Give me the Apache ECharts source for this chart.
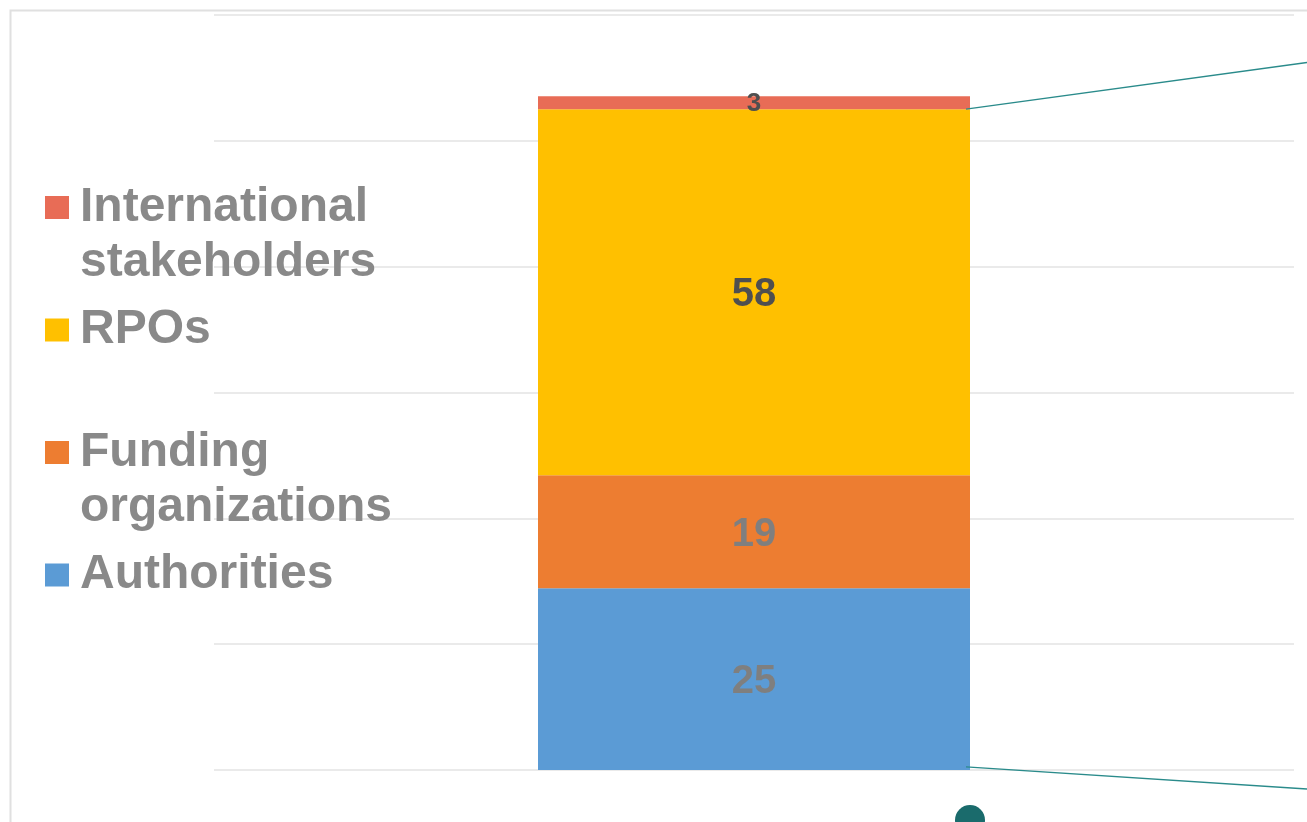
<!DOCTYPE html>
<html>
<head>
<meta charset="utf-8">
<script src="https://cdn.jsdelivr.net/npm/echarts@6/dist/echarts.min.js"></script>
<style>
html,body{margin:0;padding:0;background:#fff;}
#chart{width:1307px;height:822px;}
</style>
</head>
<body>
<div id="chart"></div>
<script>
// ---- data ----
const categories = ['Stakeholders'];
const seriesNames = ['Authorities', 'Funding organizations', 'RPOs', 'International stakeholders'];
// bar segment heights as drawn (axis units)
const authoritiesValues = [28.9];
const fundingValues = [17.96];
const rpoValues = [58.17];
const internationalValues = [2.07];
// data labels as printed on the bar
const labelTexts = ['25', '19', '58', '3'];
const yTicks = [0, 20, 40, 60, 80, 100, 120];

const colors = ['#5b9bd5', '#ed7d31', '#ffc000', '#e86c56'];
const labelColors = ['#7f7f7f', '#7f7f7f', '#4f4f4f', '#4f4f4f'];
const labelSizes = [40, 40, 40, 26];
const FONT = '"Liberation Sans", Arial, sans-serif';

const chart = echarts.init(document.getElementById('chart'), null, {renderer: 'canvas'});

const allValues = [authoritiesValues, fundingValues, rpoValues, internationalValues];
const series = seriesNames.map((name, i) => ({
  name: name,
  type: 'bar',
  stack: 'total',
  barWidth: '40%',
  data: allValues[i],
  itemStyle: {color: colors[i]},
  label: {
    show: true,
    position: 'inside',
    offset: [0, i === 3 ? 1 : 3],
    formatter: () => labelTexts[i],
    fontFamily: FONT,
    fontWeight: 'bold',
    fontSize: labelSizes[i],
    color: labelColors[i]
  },
  emphasis: {disabled: true},
  animation: false
}));

function legendFor(name, top, multi) {
  return {
    data: [{name: name, icon: 'rect'}],
    orient: 'vertical',
    left: 45,
    top: top,
    padding: 0,
    itemWidth: 24,
    itemHeight: 23,
    selectedMode: false,
    formatter: n => multi ? '\n' + n.replace(' ', '\n') : n,
    textStyle: {
      fontFamily: FONT,
      fontWeight: 'bold',
      fontSize: 48,
      lineHeight: 55,
      color: '#898989',
      padding: [10, 0, 0, 6]
    }
  };
}

const option = {
  animation: false,
  backgroundColor: '#ffffff',
  grid: {left: 214, right: 13, top: 15, bottom: 52, containLabel: false},
  legend: [
    legendFor('International stakeholders', 120, true),
    legendFor('RPOs', 297.5, false),
    legendFor('Funding organizations', 365, true),
    legendFor('Authorities', 542.5, false)
  ],
  xAxis: {
    type: 'category',
    data: categories,
    axisLine: {show: false},
    axisTick: {show: false},
    axisLabel: {show: false}
  },
  yAxis: {
    type: 'value',
    min: yTicks[0],
    max: yTicks[yTicks.length - 1],
    interval: yTicks[1] - yTicks[0],
    axisLine: {show: false},
    axisTick: {show: false},
    axisLabel: {show: false},
    splitLine: {lineStyle: {color: '#e3e3e3', width: 1.5}}
  },
  series: series
};
chart.setOption(option);

// connector lines (decoration) anchored to the bar via the axis scales
const topSum = authoritiesValues[0] + fundingValues[0] + rpoValues[0];
const pTop = chart.convertToPixel({gridIndex: 0}, [0, topSum]);
const pBot = chart.convertToPixel({gridIndex: 0}, [0, 0.5]);
const barHalf = 432 / 2;
chart.setOption({
  graphic: [
    {type: 'rect', z: -10, silent: true,
     shape: {x: 10.5, y: 10.5, width: 1400, height: 900},
     style: {fill: 'none', stroke: '#e0e0e0', lineWidth: 2}},
    {type: 'line', z: 10, silent: true,
     shape: {x1: pTop[0] + barHalf - 4, y1: pTop[1], x2: 1307, y2: 62.5},
     style: {stroke: '#2a8b8b', lineWidth: 1.3}},
    {type: 'line', z: 10, silent: true,
     shape: {x1: pBot[0] + barHalf - 4, y1: pBot[1], x2: 1307, y2: 789},
     style: {stroke: '#2a8b8b', lineWidth: 1.3}},
    {type: 'circle', z: 10, silent: true,
     shape: {cx: 970, cy: 820, r: 15},
     style: {fill: '#1a6b6c'}}
  ]
});
</script>
</body>
</html>
